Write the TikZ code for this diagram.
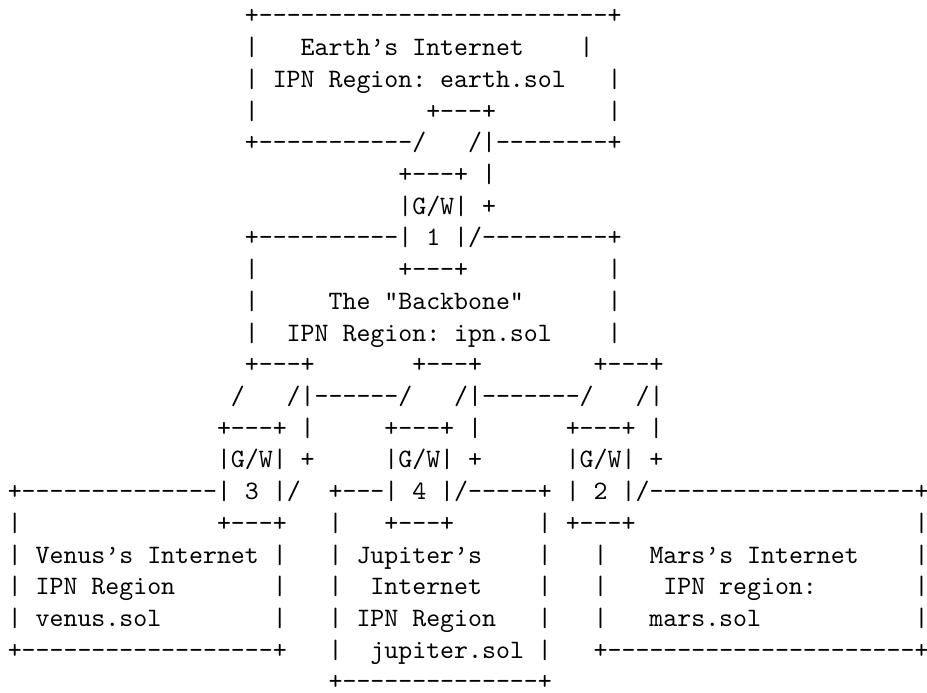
\documentclass[tikz,border=0pt]{standalone}
\usepackage{fontspec}
\setmonofont{lmmono10-regular.otf}

% n copies of a character
\newcommand{\rep}[2]{\ifnum#1>0 #2\expandafter\rep\expandafter{\the\numexpr#1-1\relax}{#2}\fi}
% column and row of the character grid, in px
\newcommand{\colx}[1]{7.5+13.95*#1}
\newcommand{\rowy}[1]{692-24-31.71*(#1-1)}

\tikzset{asciirow/.style={anchor=base west,inner sep=0pt,
  font=\ttfamily\fontsize{19.93}{24}\selectfont\frenchspacing}}

\begin{document}
\begin{tikzpicture}[x=0.75pt,y=0.75pt]
\useasboundingbox (0,0) rectangle (927,692);

% Earth's region
\node[asciirow] (r1) at ({\colx{17}},{\rowy{1}}) {+\rep{25}{-}+};
\node[asciirow] (r2) at ({\colx{17}},{\rowy{2}}) {|\rep{3}{~}Earth’s Internet\rep{4}{~}|};
\node[asciirow] (r3) at ({\colx{17}},{\rowy{3}}) {|~IPN Region: earth.sol\rep{3}{~}|};
\node[asciirow] (r4) at ({\colx{17}},{\rowy{4}}) {|\rep{12}{~}+---+\rep{8}{~}|};
\node[asciirow] (r5) at ({\colx{17}},{\rowy{5}}) {+\rep{11}{-}/~~~/|\rep{8}{-}+};

% Gateway 1
\node[asciirow] (r6) at ({\colx{28}},{\rowy{6}}) {+---+~|};
\node[asciirow] (r7) at ({\colx{28}},{\rowy{7}}) {|G/W|~+};

% The backbone
\node[asciirow] (r8) at ({\colx{17}},{\rowy{8}}) {+\rep{10}{-}|~1~|/\rep{9}{-}+};
\node[asciirow] (r9) at ({\colx{17}},{\rowy{9}}) {|\rep{10}{~}+---+\rep{10}{~}|};
\node[asciirow] (r10) at ({\colx{17}},{\rowy{10}}) {|\rep{5}{~}The "Backbone"\rep{6}{~}|};
\node[asciirow] (r11) at ({\colx{17}},{\rowy{11}}) {|~~IPN Region: ipn.sol\rep{4}{~}|};

% Gateways 3, 4 and 2
\node[asciirow] (r12) at ({\colx{17}},{\rowy{12}}) {+---+\rep{7}{~}+---+\rep{8}{~}+---+};
\node[asciirow] (r13) at ({\colx{16}},{\rowy{13}}) {/~~~/|\rep{6}{-}/~~~/|\rep{7}{-}/~~~/|};
\node[asciirow] (r14) at ({\colx{15}},{\rowy{14}}) {+---+~|\rep{5}{~}+---+~|\rep{6}{~}+---+~|};
\node[asciirow] (r15) at ({\colx{15}},{\rowy{15}}) {|G/W|~+\rep{5}{~}|G/W|~+\rep{6}{~}|G/W|~+};
\node[asciirow] (r16) at ({\colx{0}},{\rowy{16}}) {+\rep{14}{-}|~3~|/~~+---|~4~|/-----+~|~2~|/\rep{19}{-}+};
\node[asciirow] (r17) at ({\colx{0}},{\rowy{17}}) {|\rep{14}{~}+---+~~~|~~~+---+\rep{6}{~}|~+---+\rep{20}{~}|};

% Venus, Jupiter and Mars regions
\node[asciirow] (r18) at ({\colx{0}},{\rowy{18}}) {|~Venus’s Internet~|~~~|~Jupiter’s\rep{4}{~}|~~~|~~~Mars’s Internet\rep{4}{~}|};
\node[asciirow] (r19) at ({\colx{0}},{\rowy{19}}) {|~IPN Region\rep{7}{~}|~~~|~~Internet\rep{4}{~}|~~~|\rep{4}{~}IPN region:\rep{7}{~}|};
\node[asciirow] (r20) at ({\colx{0}},{\rowy{20}}) {|~venus.sol\rep{8}{~}|~~~|~IPN Region~~~|~~~|~~~mars.sol\rep{11}{~}|};
\node[asciirow] (r21) at ({\colx{0}},{\rowy{21}}) {+\rep{18}{-}+~~~|~~jupiter.sol~|~~~+\rep{22}{-}+};
\node[asciirow] (r22) at ({\colx{23}},{\rowy{22}}) {+\rep{14}{-}+};
\end{tikzpicture}
\end{document}
